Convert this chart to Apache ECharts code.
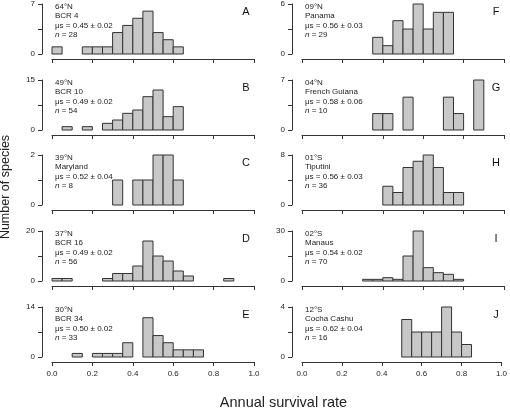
<!DOCTYPE html>
<html><head><meta charset="utf-8">
<script src="https://cdn.jsdelivr.net/npm/echarts@6/dist/echarts.min.js"></script>
<style>html,body{margin:0;padding:0;background:#fff}#c{width:510px;height:409px}</style>
</head><body><div id="c"></div>
<script>
// ---- data ----
const BIN_WIDTH = 0.05;
const X_TICK_LABELS = ['0.0','0.2','0.4','0.6','0.8','1.0'];
const panelLetters = ['A','B','C','D','E','F','G','H','I','J'];
const panelLat = ['64°N','49°N','39°N','37°N','30°N','09°N','04°N','01°S','02°S','12°S'];
const panelSite = ['BCR 4','BCR 10','Maryland','BCR 16','BCR 34','Panama','French Guiana','Tiputini','Manaus','Cocha Cashu'];
const panelMu = ['0.45 ± 0.02','0.49 ± 0.02','0.52 ± 0.04','0.49 ± 0.02','0.50 ± 0.02','0.56 ± 0.03','0.58 ± 0.06','0.56 ± 0.03','0.54 ± 0.02','0.62 ± 0.04'];
const panelN = [28,54,8,56,33,29,10,36,70,16];
const yMax = [7,15,2,20,14,6,7,8,30,4];
// counts per 0.05-wide bin from 0.00 to 1.00
const countsA = [1,0,0,1,1,1,3,4,5,6,3,2,1,0,0,0,0,0,0,0];
const countsB = [0,1,0,1,0,2,3,5,6,10,12,4,7,0,0,0,0,0,0,0];
const countsC = [0,0,0,0,0,0,1,0,1,1,2,2,1,0,0,0,0,0,0,0];
const countsD = [1,1,0,0,0,1,3,3,6,16,10,8,4,2,0,0,0,1,0,0];
const countsE = [0,0,1,0,1,1,1,4,0,11,6,4,2,2,2,0,0,0,0,0];
const countsF = [0,0,0,0,0,0,0,2,1,4,3,6,3,5,5,0,0,0,0,0];
const countsG = [0,0,0,0,0,0,0,2.3,2.3,0,4.6,0,0,0,4.6,2.3,0,7,0,0];
const countsH = [0,0,0,0,0,0,0,0,3,2,6,7,8,6,2,2,0,0,0,0];
const countsI = [0,0,0,0,0,0,1,1,2,1,15,30,8,5,4,1,0,0,0,0];
const countsJ = [0,0,0,0,0,0,0,0,0,0,3,2,2,2,4,2,1,0,0,0];
const allCounts = [countsA,countsB,countsC,countsD,countsE,countsF,countsG,countsH,countsI,countsJ];

// ---- layout ----
const colLeft = [52, 302];
const gridW = 202;
const rowTop = [4, 80, 155, 231, 307];
const gridH = 50;
const FONT = 'Liberation Sans, Arial, sans-serif';

const grids = [], xAxes = [], yAxes = [], series = [], graphics = [];
allCounts.forEach((counts, k) => {
  const col = k < 5 ? 0 : 1, row = k % 5;
  const top = rowTop[row], left = colLeft[col];
  grids.push({left: left, top: top, width: gridW, height: gridH, containLabel: false});
  xAxes.push({
    gridIndex: k, type: 'value', min: 0, max: 1, interval: 0.2, offset: 5,
    axisLine: {show: true, onZero: false, lineStyle: {color: '#333', width: 1}},
    axisTick: {show: true, length: 4, lineStyle: {color: '#333'}},
    splitLine: {show: false},
    axisLabel: {show: row === 4, fontSize: 8, color: '#222', margin: 8, fontFamily: FONT,
      formatter: v => X_TICK_LABELS[Math.round(v / 0.2)]}
  });
  const m = yMax[k];
  yAxes.push({
    gridIndex: k, type: 'value', min: 0, max: m, interval: m / 2, offset: 10,
    axisLine: {show: true, onZero: false, lineStyle: {color: '#333', width: 1}},
    axisTick: {show: true, length: 4, lineStyle: {color: '#333'}},
    splitLine: {show: false},
    axisLabel: {fontSize: 8, color: '#222', margin: 7, fontFamily: FONT,
      formatter: v => (v === 0 || Math.abs(v - m) < 1e-9) ? String(v) : ''}
  });
  const data = [];
  counts.forEach((c, i) => { if (c > 0) data.push([i * BIN_WIDTH, c]); });
  series.push({
    type: 'custom', xAxisIndex: k, yAxisIndex: k, data: data, silent: true,
    renderItem: (params, api) => {
      const x0 = api.value(0), c = api.value(1);
      const p0 = api.coord([x0, 0]);
      const p1 = api.coord([x0 + BIN_WIDTH, c]);
      return {type: 'rect', shape: {x: p0[0], y: p1[1], width: p1[0] - p0[0], height: p0[1] - p1[1]},
        style: {fill: '#c8c8c8', stroke: '#333', lineWidth: 1}};
    }
  });
  graphics.push({
    type: 'text', x: left + 3, y: top - 2.5,
    style: {
      text: panelLat[k] + '\n' + panelSite[k] + '\nμs = ' + panelMu[k] + '\n{i|n} = ' + panelN[k],
      fontSize: 8, lineHeight: 9.6, fill: '#222', fontFamily: FONT, verticalAlign: 'top',
      rich: {i: {fontStyle: 'italic', fontSize: 8, lineHeight: 9.6, fill: '#222', fontFamily: FONT}}
    }
  });
  graphics.push({
    type: 'text', x: left + 194, y: top + 7.5,
    style: {text: panelLetters[k], fontSize: 11, fill: '#111', fontFamily: FONT, align: 'center', verticalAlign: 'middle'}
  });
});
graphics.push({type: 'text', x: 283.5, y: 403,
  style: {text: 'Annual survival rate', fontSize: 14.5, fill: '#222', fontFamily: FONT, align: 'center', verticalAlign: 'middle'}});
graphics.push({type: 'text', x: 6, y: 187, rotation: Math.PI / 2,
  style: {text: 'Number of species', fontSize: 12.5, fill: '#222', fontFamily: FONT, align: 'center', verticalAlign: 'middle'}});

const chart = echarts.init(document.getElementById('c'), null, {renderer: 'canvas'});
chart.setOption({animation: false, grid: grids, xAxis: xAxes, yAxis: yAxes, series: series, graphic: graphics});
</script></body></html>
